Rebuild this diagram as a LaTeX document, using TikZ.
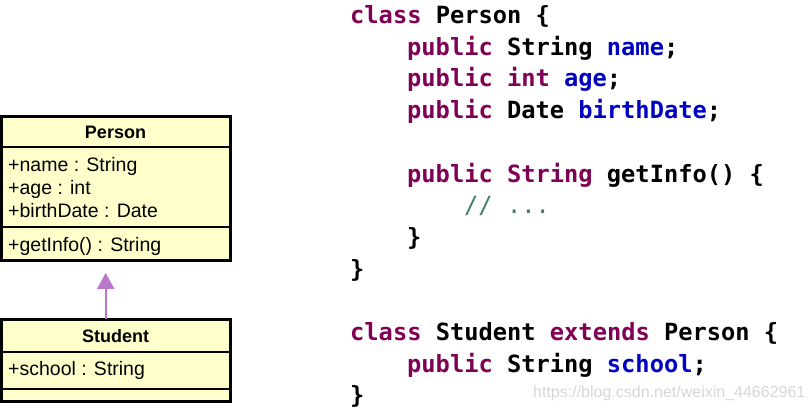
\documentclass[tikz,border=0pt]{standalone}
\usepackage{fontspec}
\setmainfont{Liberation Sans}
\newfontfamily\codefont{DejaVu Sans Mono}
\usetikzlibrary{arrows.meta,calc}
\definecolor{umlfill}{HTML}{FFFFCC}
\definecolor{kw}{HTML}{7F0055}
\definecolor{fld}{HTML}{0000C0}
\definecolor{cmt}{HTML}{3F7F5F}
\definecolor{inh}{HTML}{B878C8}
\definecolor{wmgray}{HTML}{D6D6D6}
\begin{document}
\begin{tikzpicture}[x=1pt,y=-1pt,
  classbox/.style={draw=black, fill=umlfill, line width=3pt, outer sep=0pt, inner sep=0pt, anchor=north west},
  sepline/.style={draw=black, line width=1.3pt},
  umltitle/.style={anchor=base, inner sep=0pt, font=\fontsize{18}{20}\selectfont\bfseries},
  umlattr/.style={anchor=base west, inner sep=0pt, font=\fontsize{19.5}{22}\selectfont},
  code/.style={anchor=base west, inner sep=0pt, font=\codefont\bfseries\fontsize{23.7}{28}\selectfont},
  wm/.style={anchor=base west, inner sep=0pt, text=wmgray, font=\fontsize{16}{18}\selectfont},
  inharrow/.style={draw=inh, line width=2pt, -{Triangle[length=16pt,width=17pt,fill=inh]}}
]
\useasboundingbox (0,0) rectangle (812,410);

% Person class
\node[classbox, minimum width=229pt, minimum height=144.5pt] (person) at (1,116) {};
\draw[sepline] ($(person.north west)+(0,31)$) -- ($(person.north east)+(0,31)$);
\draw[sepline] ($(person.north west)+(0,111)$) -- ($(person.north east)+(0,111)$);
\node[umltitle] (ptitle) at (115.5,138.5) {Person};
\node[umlattr] (pa1) at (8,171.7) {+name : String};
\node[umlattr] (pa2) at (8,194.5) {+age : int};
\node[umlattr] (pa3) at (8,217.3) {+birthDate : Date};
\node[umlattr] (pm1) at (8,251) {+getInfo() : String};

% Student class
\node[classbox, minimum width=229pt, minimum height=82pt] (student) at (1,319) {};
\draw[sepline] ($(student.north west)+(0,33)$) -- ($(student.north east)+(0,33)$);
\draw[sepline] ($(student.north west)+(0,70)$) -- ($(student.north east)+(0,70)$);
\node[umltitle] (stitle) at (115.5,342.7) {Student};
\node[umlattr] (sa1) at (8,375.7) {+school : String};

% inheritance arrow
\coordinate (arrstart) at ($(student.north west)+(104.7,0)$);
\coordinate (arrend) at ($(arrstart)+(0,-46)$);
\draw[inharrow] (arrstart) -- (arrend);

% code
\node[code] (c1) at (350,23.5) {\textcolor{kw}{class} Person \{};
\node[code] (c2) at (407,55.2) {\textcolor{kw}{public} String \textcolor{fld}{name};};
\node[code] (c3) at (407,86.9) {\textcolor{kw}{public int} \textcolor{fld}{age};};
\node[code] (c4) at (407,118.6) {\textcolor{kw}{public} Date \textcolor{fld}{birthDate};};
\node[code] (c6) at (407,182) {\textcolor{kw}{public String} getInfo() \{};
\node[code] (c7) at (464,213.7) {\textcolor{cmt}{\mdseries // ...}};
\node[code] (c8) at (407,245.4) {\}};
\node[code] (c9) at (350,277.1) {\}};
\node[code] (c11) at (350,340.5) {\textcolor{kw}{class} Student \textcolor{kw}{extends} Person \{};
\node[code] (c12) at (407,372.2) {\textcolor{kw}{public} String \textcolor{fld}{school};};
\node[code] (c13) at (350,403.9) {\}};

\node[wm] (wmark) at (533,397) {https://blog.csdn.net/weixin\_44662961};
\end{tikzpicture}
\end{document}
